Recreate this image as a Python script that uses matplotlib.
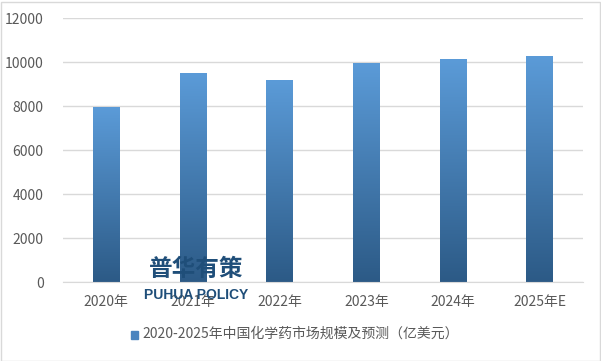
import numpy as np
import matplotlib
matplotlib.use("Agg")
import matplotlib.pyplot as plt
from matplotlib.colors import LinearSegmentedColormap
from matplotlib.patches import Rectangle

plt.rcParams["font.family"] = ["Noto Sans CJK SC", "DejaVu Sans"]

years = ["2020年", "2021年", "2022年", "2023年", "2024年", "2025年E"]
values = [7930, 9470, 9160, 9940, 10100, 10240]
series_name = "2020-2025年中国化学药市场规模及预测（亿美元）"

TEXT = "#595959"
GRID = "#D9D9D9"
cmap = LinearSegmentedColormap.from_list("bar", ["#2C5A86", "#5B9BD8"])

fig = plt.figure(figsize=(6.01, 3.61), dpi=100)
ax = fig.add_axes([63 / 601, 1 - 282.3 / 361, 520 / 601, (282.3 - 18.3) / 361])

x = np.arange(len(years))
width = 0.31
grad = np.linspace(0, 1, 256).reshape(-1, 1)
for xi, v in zip(x, values):
    ax.imshow(grad, cmap=cmap, origin="lower", aspect="auto",
              extent=(xi - width / 2, xi + width / 2, 0, v), zorder=3)

ax.set_xlim(-0.5, len(years) - 0.5)
ax.set_ylim(0, 12000)
ax.set_yticks(range(0, 12001, 2000))
ax.set_xticks(x)
ax.set_xticklabels(years)
ax.tick_params(axis="both", length=0, labelsize=10, colors=TEXT)
ax.tick_params(axis="x", pad=9)
ax.tick_params(axis="y", pad=14)
ax.grid(axis="y", color=GRID, lw=1, zorder=0)
for side in ("top", "right", "left"):
    ax.spines[side].set_visible(False)
ax.spines["bottom"].set_color(GRID)
ax.spines["bottom"].set_zorder(4)

# legend
fig.patches.append(Rectangle((131 / 601, 1 - 339 / 361), 7 / 601, 8 / 361,
                             transform=fig.transFigure, color="#4A84BF"))
fig.text(142 / 601, 1 - 334 / 361, series_name, fontsize=10, color=TEXT,
         va="center", ha="left")

# watermark
fig.text(196 / 601, 1 - 268.5 / 361, "普华有策", fontsize=17, fontweight="bold",
         color="#1F4E79", ha="center", va="center", zorder=10)
fig.text(196 / 601, 1 - 295 / 361, "PUHUA POLICY", fontsize=10, fontweight="bold",
         color="#1F4E79", ha="center", va="center", zorder=10,
         family=["Liberation Sans", "DejaVu Sans"])

# outer frame
fig.patches.append(Rectangle((0.5 / 601, 0.5 / 361), 599 / 601, 359 / 361,
                             transform=fig.transFigure, fill=False,
                             edgecolor="#D9D9D9", lw=1))

fig.savefig("out.png", dpi=100)
